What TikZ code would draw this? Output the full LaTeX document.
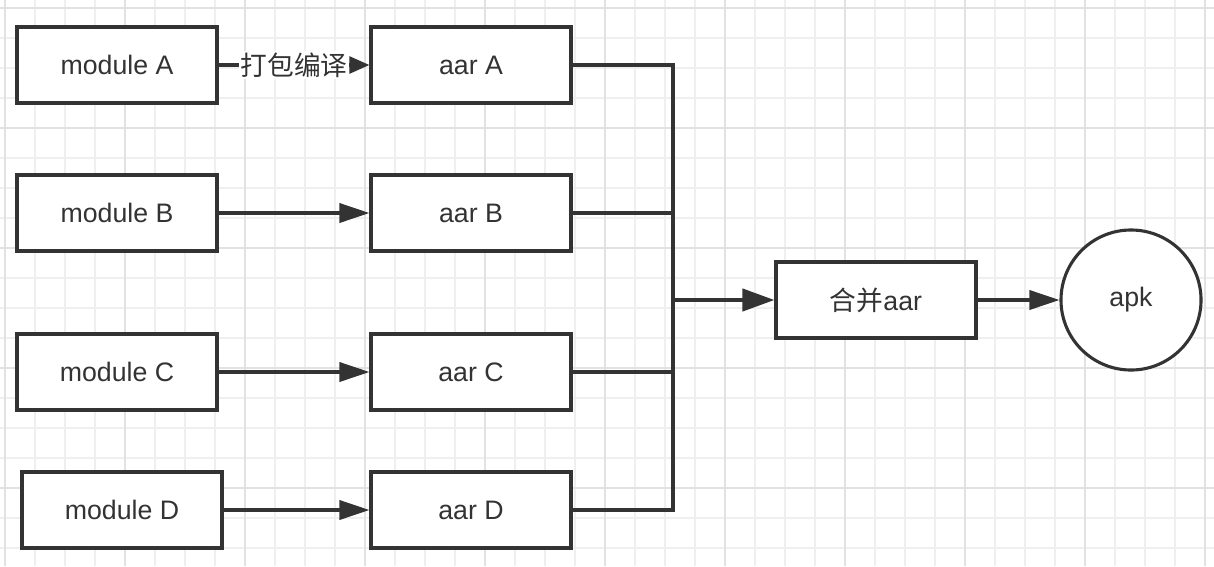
\documentclass[tikz,border=0pt]{standalone}
\usepackage{fontspec}
\setmainfont{Liberation Sans}
\newfontfamily\cjk{Noto Sans CJK SC}
\usetikzlibrary{arrows.meta}
\definecolor{ink}{HTML}{333333}
\definecolor{gridmin}{HTML}{EFEFEF}
\definecolor{gridmaj}{HTML}{E2E2E2}
\tikzset{
  blk/.style={draw=ink, line width=2.2pt, fill=white, text=ink,
    minimum width=5.0cm, minimum height=1.9cm, inner sep=0pt,
    font=\fontsize{19pt}{22pt}\selectfont},
  rnd/.style={blk, circle, minimum size=3.5cm},
  lnk/.style={draw=ink, line width=2.2pt},
  arr/.style={lnk, -{Triangle[length=0.75cm, width=0.48cm]}},
  bigarr/.style={lnk, line width=3pt, -{Triangle[length=0.8cm, width=0.55cm]}},
  lbl/.style={fill=white, text=ink, inner sep=1pt,
    font=\cjk\fontsize{19pt}{22pt}\selectfont},
  grd/.style={gridmin, line width=0.8pt},
  grdmaj/.style={gridmaj, line width=1pt},
}
\begin{document}
\begin{tikzpicture}[x=0.025cm, y=-0.025cm]
  \useasboundingbox (0,0) rectangle (1214,566);
  \fill[white] (0,0) rectangle (1214,566);
  % background grid
  \foreach \gx in {5,35,...,1205} \draw[grd] (\gx,0) -- (\gx,566);
  \foreach \gy in {8,38,...,548} \draw[grd] (0,\gy) -- (1214,\gy);
  \foreach \gx in {5,125,...,1205} \draw[grdmaj] (\gx,0) -- (\gx,566);
  \foreach \gy in {8,128,...,488} \draw[grdmaj] (0,\gy) -- (1214,\gy);
  % modules
  \node[blk] (modA) at (117,65) {module A};
  \node[blk] (modB) at (117,213) {module B};
  \node[blk] (modC) at (117,372) {module C};
  \node[blk] (modD) at (122,510) {module D};
  % aars
  \node[blk] (aarA) at (471,65) {aar A};
  \node[blk] (aarB) at (471,213) {aar B};
  \node[blk] (aarC) at (471,372) {aar C};
  \node[blk] (aarD) at (471,510) {aar D};
  % merge and apk
  \node[blk] (merge) at (876,300) {{\cjk 合并}aar};
  \node[rnd] (apk) at (1131,300) {apk};
  % build arrows
  \draw[lnk, -{Triangle[length=0.5cm, width=0.42cm]}] (modA) -- node[lbl] {打包编译} (aarA);
  \draw[arr] (modB) -- (aarB);
  \draw[arr] (modC) -- (aarC);
  \draw[arr] (modD) -- (aarD);
  % bus to merge
  \coordinate (busTop) at (673,65);
  \coordinate (busBot) at (673,510);
  \coordinate (busMid) at (673,300);
  \draw[lnk] (aarA.east) -- (busTop) -- (busBot) -- (aarD.east);
  \draw[lnk] (aarB.east) -- (aarB.east -| busTop);
  \draw[lnk] (aarC.east) -- (aarC.east -| busTop);
  \draw[bigarr] (busMid) -- (merge);
  \draw[arr] (merge) -- (apk);
\end{tikzpicture}
\end{document}
